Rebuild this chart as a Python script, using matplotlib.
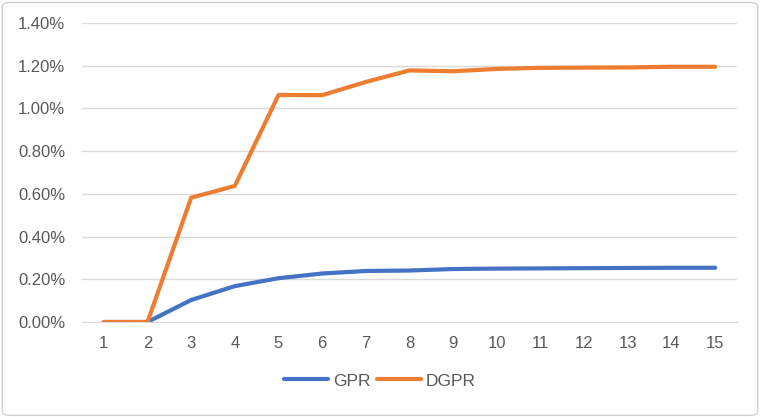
import matplotlib.pyplot as plt
from matplotlib.ticker import PercentFormatter
from matplotlib.patches import FancyBboxPatch

x = list(range(1, 16))
gpr = [0.0, 0.0, 0.103, 0.168, 0.205, 0.227, 0.239, 0.241, 0.248, 0.250,
       0.251, 0.252, 0.253, 0.254, 0.254]
dgpr = [0.0, 0.0, 0.582, 0.637, 1.063, 1.062, 1.124, 1.178, 1.174, 1.185,
        1.190, 1.191, 1.192, 1.195, 1.195]

plt.rcParams['font.family'] = ['Liberation Sans', 'DejaVu Sans']

fig = plt.figure(figsize=(7.6, 4.17), dpi=100)
ax = fig.add_axes([82 / 760, 1 - 322 / 417, (737 - 82) / 760, (322 - 23) / 417])

# rounded gray frame round the whole chart
fig.patches.append(FancyBboxPatch((0.003, 0.004), 0.994, 0.99,
                                  boxstyle="round,pad=0,rounding_size=0.01",
                                  transform=fig.transFigure, fill=False,
                                  ec="#D0D0D0", lw=1))

ax.plot(x, gpr, color="#4472C4", lw=3, label="GPR", solid_capstyle="round")
ax.plot(x, dgpr, color="#ED7D31", lw=3, label="DGPR", solid_capstyle="round")

ax.set_xlim(0.5, 15.5)
ax.set_ylim(0, 1.4)
ax.set_xticks(x)
ax.set_yticks([i * 0.2 for i in range(8)])
ax.yaxis.set_major_formatter(PercentFormatter(decimals=2))
ax.grid(axis="y", color="#D9D9D9", lw=1)
ax.set_axisbelow(True)
for s in ["top", "right", "left"]:
    ax.spines[s].set_visible(False)
ax.spines["bottom"].set_color("#D9D9D9")
ax.tick_params(length=0, labelsize=12, labelcolor="#595959")
ax.tick_params(axis="x", pad=10)
ax.tick_params(axis="y", pad=12)

fig.legend(loc="center", bbox_to_anchor=(0.5, 1 - 381 / 417), ncol=2,
           frameon=False, fontsize=12.5, handlelength=2.5, columnspacing=0.4,
           handletextpad=0.3, labelcolor="#595959")

fig.savefig("out.png")
